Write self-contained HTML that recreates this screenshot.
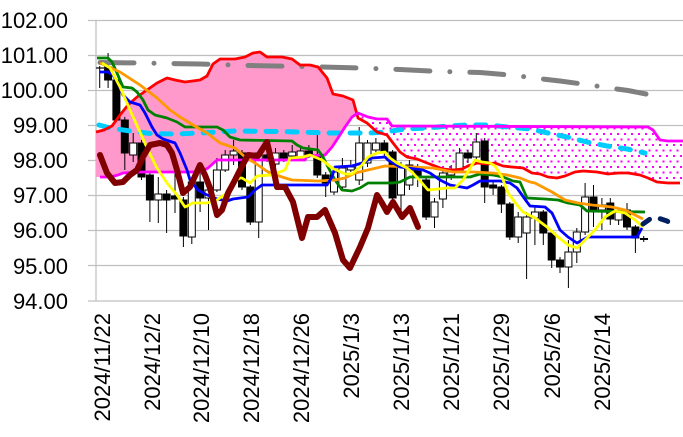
<!DOCTYPE html>
<html><head><meta charset="utf-8"><style>
html,body{margin:0;padding:0;background:#fff;}
svg{display:block;}
text{font-family:"Liberation Sans",Arial,sans-serif;font-size:22px;fill:#000;}
</style></head><body>
<svg width="683" height="437" viewBox="0 0 683 437" xmlns="http://www.w3.org/2000/svg">
<defs>
<pattern id="dots" width="7" height="11" patternUnits="userSpaceOnUse">
<rect width="7" height="11" fill="#fff"/>
<rect x="1" y="1" width="2" height="2" fill="#ff00ff"/>
<rect x="4.5" y="6.5" width="2" height="2" fill="#ff00ff"/>
</pattern>
</defs>
<rect width="683" height="437" fill="#fff"/>
<g stroke="#bfbfbf" stroke-width="1.2">
<line x1="88" y1="20.5" x2="683" y2="20.5"/>
<line x1="88" y1="55.5" x2="683" y2="55.5"/>
<line x1="88" y1="90.5" x2="683" y2="90.5"/>
<line x1="88" y1="125.5" x2="683" y2="125.5"/>
<line x1="88" y1="160.5" x2="683" y2="160.5"/>
<line x1="88" y1="195.5" x2="683" y2="195.5"/>
<line x1="88" y1="230.5" x2="683" y2="230.5"/>
<line x1="88" y1="265.5" x2="683" y2="265.5"/>
<line x1="88" y1="301" x2="683" y2="301"/>
<line x1="96" y1="20" x2="96" y2="301"/>
</g>
<g text-anchor="end">
<text x="68" y="28">102.00</text>
<text x="68" y="63">101.00</text>
<text x="68" y="98">100.00</text>
<text x="68" y="133">99.00</text>
<text x="68" y="168">98.00</text>
<text x="68" y="203">97.00</text>
<text x="68" y="238">96.00</text>
<text x="68" y="274">95.00</text>
<text x="68" y="309">94.00</text>
</g>
<g text-anchor="end">
<text transform="translate(110,313) rotate(-90)">2024/11/22</text>
<text transform="translate(160,313) rotate(-90)">2024/12/2</text>
<text transform="translate(209,313) rotate(-90)">2024/12/10</text>
<text transform="translate(259,313) rotate(-90)">2024/12/18</text>
<text transform="translate(309,313) rotate(-90)">2024/12/26</text>
<text transform="translate(359,313) rotate(-90)">2025/1/3</text>
<text transform="translate(409,313) rotate(-90)">2025/1/13</text>
<text transform="translate(459,313) rotate(-90)">2025/1/21</text>
<text transform="translate(509,313) rotate(-90)">2025/1/29</text>
<text transform="translate(560,313) rotate(-90)">2025/2/6</text>
<text transform="translate(610,313) rotate(-90)">2025/2/14</text>
</g>
<polygon fill="#ff99cc" points="96,132 104,130 112,126 120,115 128,105 137,97 147,90 157,83 167,78 175,80 185,82 200,80 207,76 213,64 220,59 235,59 245,57 253,53 260,52 267,57 282,57 292,59 300,65 310,65 318,67 327,78 333,94 343,96 353,100 356.9,114 352,117 345,127 338,138 332,147 325,155 307,156 305,160 217,160 208,168 200,172 140,172 123,173 118,175 110,177 100,177 96,177"/>
<polygon fill="url(#dots)" points="356.9,114 358,113 368,117 377,119 387,119 392,126 400,126 648,127 653,130 660,140 668,141 683,141 683,183 668,183 657,182 648,178 640,175 628,173 618,173 608,174 597,172 583,171 575,172 565,176 557,178 548,177 540,174 532,173 523,168 512,167 503,166 495,163 487,164 477,163 468,166 462,169 453,170 443,169 435,166 427,163 417,159 407,157 400,152 393,143 387,135 377,132 367,123 358,118"/>
<path fill="none" stroke="#000" stroke-width="1" d="M99.7 66V88 M108.1 53V88 M116.4 78V122 M124.8 117V170 M133.2 133V162 M141.5 140V180 M149.9 172V222 M158.3 177V223 M166.6 190V233 M175 160V213 M183.4 197V247 M191.8 180V244 M200.1 172V212 M208.5 185V230 M216.9 158V192 M225.2 150V172 M233.6 140V165 M242 150V190 M250.3 185V225 M258.7 150V238 M267.1 150V162 M275.5 148V168 M283.8 150V162 M292.2 145V160 M300.6 146V160 M308.9 145V158 M317.3 135V178 M325.7 172V197 M334 168V195 M342.4 158V190 M350.8 160V172 M359.2 127V185 M367.5 140V167 M375.9 138V155 M384.3 140V158 M392.6 150V205 M401 162V213 M409.4 160V190 M417.7 164V187 M426.1 178V220 M434.5 198V228 M442.9 170V208 M451.2 165V180 M459.6 148V173 M468 150V163 M476.3 133V160 M484.7 138V203 M493.1 180V195 M501.4 185V213 M509.8 202V240 M518.2 212V243 M526.6 212V279 M534.9 205V245 M543.3 210V245 M551.7 230V268 M560 257V273 M568.4 240V288 M576.8 228V263 M585.1 183V235 M593.5 185V227 M601.9 198V230 M610.3 198V225 M618.6 208V225 M627 203V230 M635.4 225V253 M643.7 236V242"/>
<line x1="96" y1="68" x2="104" y2="68" stroke="#000" stroke-width="1.2"/>
<rect x="640" y="238" width="8" height="2" fill="#000"/>
<g fill="#000" stroke="#000" stroke-width="1">
<rect x="104.6" y="67" width="7" height="13"/>
<rect x="112.9" y="80" width="7" height="40"/>
<rect x="121.3" y="120" width="7" height="33"/>
<rect x="138" y="143" width="7" height="34"/>
<rect x="146.4" y="175" width="7" height="25"/>
<rect x="163.1" y="194" width="7" height="6"/>
<rect x="171.5" y="196" width="7" height="3"/>
<rect x="179.9" y="200" width="7" height="36"/>
<rect x="196.6" y="182" width="7" height="16"/>
<rect x="238.5" y="153" width="7" height="34"/>
<rect x="246.8" y="187" width="7" height="35"/>
<rect x="263.6" y="155" width="7" height="3"/>
<rect x="280.3" y="153" width="7" height="5"/>
<rect x="305.4" y="151" width="7" height="4"/>
<rect x="313.8" y="155" width="7" height="20"/>
<rect x="322.2" y="175" width="7" height="8"/>
<rect x="380.8" y="143" width="7" height="9"/>
<rect x="389.1" y="152" width="7" height="46"/>
<rect x="414.2" y="167" width="7" height="10"/>
<rect x="422.6" y="180" width="7" height="37"/>
<rect x="464.5" y="153" width="7" height="5"/>
<rect x="481.2" y="141" width="7" height="46"/>
<rect x="489.6" y="185" width="7" height="3"/>
<rect x="497.9" y="187" width="7" height="17"/>
<rect x="506.3" y="204" width="7" height="33"/>
<rect x="539.8" y="212" width="7" height="21"/>
<rect x="548.2" y="233" width="7" height="27"/>
<rect x="556.5" y="260" width="7" height="7"/>
<rect x="590" y="197" width="7" height="13"/>
<rect x="606.8" y="203" width="7" height="16"/>
<rect x="623.5" y="210" width="7" height="17"/>
<rect x="631.9" y="227" width="7" height="11"/>
</g>
<g fill="#fff" stroke="#000" stroke-width="1">
<rect x="129.7" y="143" width="7" height="12"/>
<rect x="154.8" y="194" width="7" height="6"/>
<rect x="188.3" y="182" width="7" height="55"/>
<rect x="205" y="190" width="7" height="8"/>
<rect x="213.4" y="170" width="7" height="20"/>
<rect x="221.7" y="155" width="7" height="15"/>
<rect x="230.1" y="151" width="7" height="4"/>
<rect x="255.2" y="153" width="7" height="69"/>
<rect x="272" y="153" width="7" height="11"/>
<rect x="288.7" y="152" width="7" height="4"/>
<rect x="297.1" y="151" width="7" height="6"/>
<rect x="330.5" y="172" width="7" height="20"/>
<rect x="338.9" y="168" width="7" height="19"/>
<rect x="347.3" y="167" width="7" height="3"/>
<rect x="355.7" y="143" width="7" height="37"/>
<rect x="364" y="143" width="7" height="20"/>
<rect x="372.4" y="143" width="7" height="7"/>
<rect x="397.5" y="167" width="7" height="28"/>
<rect x="405.9" y="165" width="7" height="20"/>
<rect x="431" y="202" width="7" height="15"/>
<rect x="439.4" y="173" width="7" height="26"/>
<rect x="447.7" y="169" width="7" height="6"/>
<rect x="456.1" y="153" width="7" height="17"/>
<rect x="472.8" y="142" width="7" height="15"/>
<rect x="514.7" y="217" width="7" height="20"/>
<rect x="523.1" y="217" width="7" height="16"/>
<rect x="531.4" y="212" width="7" height="6"/>
<rect x="564.9" y="252" width="7" height="15"/>
<rect x="573.3" y="232" width="7" height="20"/>
<rect x="581.6" y="197" width="7" height="35"/>
<rect x="598.4" y="205" width="7" height="5"/>
<rect x="615.1" y="212" width="7" height="8"/>
</g>
<g fill="none" stroke-linejoin="round">
<polyline stroke="#808080" stroke-width="5" stroke-linecap="round" stroke-dasharray="34 20 0 20" points="100,62.5 140,63 200,64 250,65.5 300,66.5 360,68 400,69.5 440,71.5 480,72.5 515,75.5 534,78 560,81 590,85 609,88 628,90.5 646,94"/>
<polyline stroke="#00ccff" stroke-width="5" stroke-linecap="round" stroke-dasharray="10 11" points="99,125 110,128 130,131 150,133.5 175,134 200,133 235,131 280,131.5 330,133 370,133 385,132 405,129 428,128 448,126 468,125 488,125 508,127 530,129 548,133 567,137 587,142 607,146 627,149 645,153"/>
<polyline stroke="#ff0000" stroke-width="2.8" points="96,132 104,130 112,126 120,115 128,105 137,97 147,90 157,83 167,78 175,80 185,82 200,80 207,76 213,64 220,59 235,59 245,57 253,53 260,52 267,57 282,57 292,59 300,65 310,65 318,67 327,78 333,94 343,96 353,100 358,118 367,123 377,132 387,135 393,143 400,152 407,157 417,159 427,163 435,166 443,169 453,170 462,169 468,166 477,163 487,164 495,163 503,166 512,167 523,168 532,173 540,174 548,177 557,178 565,176 575,172 583,171 597,172 608,174 618,173 628,173 640,175 648,178 657,182 668,183 680,183"/>
<polyline stroke="#ff00ff" stroke-width="2.8" points="100,177 110,177 118,175 123,173 140,172 200,172 208,168 217,160 305,160 307,156 325,155 332,147 338,138 345,127 352,117 358,113 368,117 377,119 387,119 392,126 400,126 648,127 653,130 660,140 668,141 683,141"/>
<polyline stroke="#008000" stroke-width="2.8" points="97,58 108,58 112,62 117,73 123,87 132,88 137,92 143,100 148,110 155,115 167,118 177,122 185,127 217,127 223,130 230,137 240,140 292,141 297,145 303,148 318,150 323,157 328,167 335,180 342,190 352,191 360,188 368,183 393,183 400,182 410,177 470,177 480,174 493,175 503,177 513,181 520,182 527,198 545,199 558,200 568,203 580,205 587,211 645,212"/>
<polyline stroke="#ff9900" stroke-width="2.8" points="100,63 120,72 140,85 157,98 170,110 180,117 193,125 207,133 220,143 235,148 245,157 255,163 268,172 282,177 292,180 318,181 335,180 345,178 355,173 368,170 385,166 413,167 433,168 453,172 473,172 493,173 507,175 520,178 530,182 535,183 552,192 565,200 578,203 592,205 612,207 625,210 635,215 643,219"/>
<polyline stroke="#0000ff" stroke-width="2.8" points="100,72 108,72 113,75 118,83 123,95 130,102 140,105 145,113 152,127 157,135 163,139 175,143 180,153 187,170 190,180 198,190 205,194 217,199 227,201 233,199 248,197 255,190 262,185 327,185 332,177 335,167 352,166 362,163 372,158 385,157 388,160 400,167 423,170 430,173 440,180 450,185 467,188 473,185 480,181 500,181 510,183 517,188 527,202 530,206 545,207 552,213 560,230 568,237 577,243 588,237 637,237 642,228"/>
<polyline stroke="#ffff00" stroke-width="2.8" points="102,63 110,68 120,87 130,110 140,132 148,150 157,168 167,183 177,195 185,207 193,203 207,203 217,200 227,193 233,182 240,178 242,178 250,183 257,176 272,175 285,170 290,158 303,157 310,155 322,160 332,168 345,174 352,174 362,165 368,157 377,153 385,152 390,158 397,163 407,168 413,173 422,183 428,190 438,189 447,188 455,188 463,180 475,160 482,162 490,163 495,166 502,177 508,193 517,205 523,212 535,218 547,227 558,237 568,245 577,248 585,240 595,230 605,217 615,211 625,213 635,220 643,227"/>
<polyline stroke="#800000" stroke-width="6" stroke-linecap="round" points="100,155 107,173 115,183 123,182 130,175 137,170 143,157 150,145 160,143 167,145 172,153 177,170 183,193 190,187 200,165 205,175 210,188 217,215 222,210 228,193 235,180 240,170 248,155 258,156 267,142 272,163 277,187 285,187 293,202 302,238 308,217 317,217 325,210 335,233 343,260 350,268 360,247 368,228 377,195 382,203 387,212 393,202 402,217 410,208 418,227"/>
<polyline stroke="#002060" stroke-width="5" stroke-linecap="round" stroke-dasharray="8 11" points="643,224 650,219 658,218 667,221 676,227"/>
</g>
</svg>
</body></html>
